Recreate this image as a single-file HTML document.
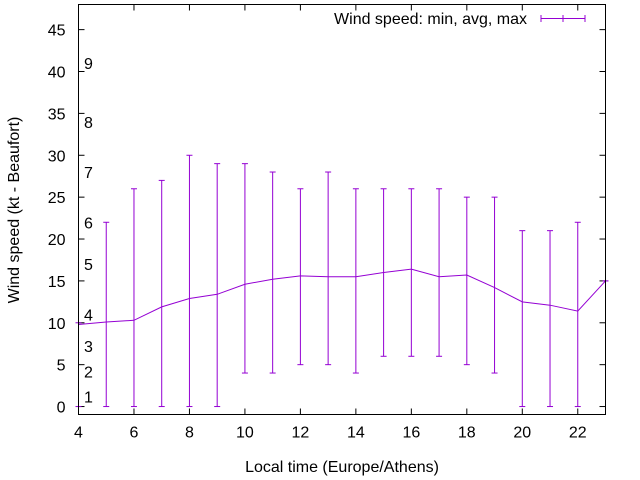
<!DOCTYPE html>
<html><head><meta charset="utf-8"><style>
body{margin:0;background:#fff;}
svg{display:block;font-family:"Liberation Sans",sans-serif;}
</style></head><body>
<svg id="chart" width="640" height="480" viewBox="0 0 640 480"></svg>
<script>
const hours=[4,5,6,7,8,9,10,11,12,13,14,15,16,17,18,19,20,21,22,23];
const avgSpeed=[9.8,10.1,10.3,11.9,12.9,13.4,14.6,15.2,15.6,15.5,15.5,16.0,16.4,15.5,15.7,14.2,12.5,12.1,11.4,15.0];
const minSpeed=[0,0,0,0,0,0,4,4,5,5,4,6,6,6,5,4,0,0,0,15];
const maxSpeed=[10,22,26,27,30,29,29,28,26,28,26,26,26,26,25,25,21,21,22,15];
const yTicks=[0,5,10,15,20,25,30,35,40,45];
const xTicks=[4,6,8,10,12,14,16,18,20,22];
const beaufortLabels=["1","2","3","4","5","6","7","8","9"];
const beaufortValues=[1.2,4.2,7.2,11,17,22,28,34,41];

const L=78.5,R=605.5,T=4.5,B=414.5;
const xMin=4,xMax=23,yMin=-0.95,yMax=48;
const x=v=>L+(v-xMin)/(xMax-xMin)*(R-L);
const y=v=>B-(v-yMin)/(yMax-yMin)*(B-T);
const svg=document.getElementById('chart');
const NS='http://www.w3.org/2000/svg';
function mk(tag,attrs,parent){const e=document.createElementNS(NS,tag);for(const k in attrs)e.setAttribute(k,attrs[k]);(parent||svg).appendChild(e);return e;}
const C='#9400d3';
const FS=16;

yTicks.forEach(v=>{
  const g=mk('g',{});
  
  
  mk('line',{x1:L,x2:L+6,y1:y(v),y2:y(v),stroke:'#000'},g);
  mk('line',{x1:R,x2:R-6,y1:y(v),y2:y(v),stroke:'#000'},g);
  const t=mk('text',{x:L-13,y:y(v)+6,'text-anchor':'end','font-size':FS},g);t.textContent=v;
});
xTicks.forEach(v=>{
  const g=mk('g',{});
  
  
  mk('line',{x1:x(v),x2:x(v),y1:B,y2:B-6,stroke:'#000'},g);
  mk('line',{x1:x(v),x2:x(v),y1:T,y2:T+6,stroke:'#000'},g);
  const t=mk('text',{x:x(v),y:B+23,'text-anchor':'middle','font-size':FS},g);t.textContent=v;
});
beaufortLabels.forEach((s,i)=>{
  const t=mk('text',{x:84,y:y(beaufortValues[i])+6,'font-size':FS});
  
  
  t.textContent=s;
});

hours.forEach((h,i)=>{
  const g=mk('g',{stroke:C,'stroke-width':1});
  
  
  const xx=x(h);
  mk('line',{x1:xx,x2:xx,y1:y(minSpeed[i]),y2:y(maxSpeed[i])},g);
  mk('line',{x1:xx-3,x2:xx+3,y1:y(minSpeed[i]),y2:y(minSpeed[i])},g);
  mk('line',{x1:xx-3,x2:xx+3,y1:y(maxSpeed[i]),y2:y(maxSpeed[i])},g);
});
const pl=mk('polyline',{points:hours.map((h,i)=>x(h)+','+y(avgSpeed[i])).join(' '),fill:'none',stroke:C,'stroke-width':1});



const frame=mk('rect',{x:L,y:T,width:R-L,height:B-T,fill:'none',stroke:'#000'});



const lg=mk('g',{});


const lt=mk('text',{x:527,y:24,'text-anchor':'end','font-size':FS},lg);lt.textContent='Wind speed: min, avg, max';
mk('line',{x1:541,x2:585,y1:18.5,y2:18.5,stroke:C},lg);
mk('line',{x1:541,x2:541,y1:15,y2:22,stroke:C},lg);
mk('line',{x1:563,x2:563,y1:15,y2:22,stroke:C},lg);
mk('line',{x1:585,x2:585,y1:15,y2:22,stroke:C},lg);

const xt=mk('text',{x:(L+R)/2,y:472,'text-anchor':'middle','font-size':FS});


xt.textContent='Local time (Europe/Athens)';
const yt=mk('text',{x:0,y:0,'text-anchor':'middle','font-size':FS,transform:'translate(19,210) rotate(-90)'});


yt.textContent='Wind speed (kt - Beaufort)';
</script>
</body></html>
